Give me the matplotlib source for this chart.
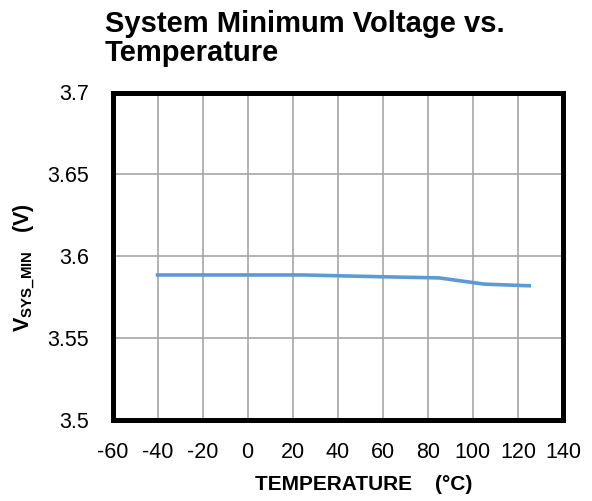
import matplotlib
matplotlib.use('Agg')
import matplotlib.pyplot as plt

plt.rcParams['font.family'] = ['Liberation Sans', 'DejaVu Sans']
plt.rcParams['mathtext.fontset'] = 'custom'
plt.rcParams['mathtext.rm'] = 'Liberation Sans'
plt.rcParams['mathtext.bf'] = 'Liberation Sans:bold'

# data
temp = [-40, -20, 0, 25, 40, 60, 85, 105, 125]
vsys = [3.5884, 3.5884, 3.5884, 3.5884, 3.5879, 3.5873, 3.5866, 3.5828, 3.5818]
xticks = [-60, -40, -20, 0, 20, 40, 60, 80, 100, 120, 140]
yticks = [3.5, 3.55, 3.6, 3.65, 3.7]
ylabels = ['3.5', '3.55', '3.6', '3.65', '3.7']

fig = plt.figure(figsize=(5.92, 5.01), dpi=100)
ax = fig.add_axes([112.5/592, 1-419.5/501, (563-112.5)/592, (419.5-92.5)/501])

ax.plot(temp, vsys, color='#5B9BD5', lw=2.6, zorder=3)

ax.set_xlim(-60, 140)
ax.set_ylim(3.5, 3.7)
ax.set_xticks(xticks)
ax.set_xticklabels([str(t) for t in xticks])
ax.set_yticks(yticks)
ax.set_yticklabels(ylabels)
ax.tick_params(length=0, labelsize=15.5)
ax.tick_params(axis='x', pad=16)
ax.tick_params(axis='y', pad=17)
ax.grid(True, color='#A6A6A6', lw=1.2)
for s in ax.spines.values():
    s.set_linewidth(3.6)
    s.set_color('black')

ax.set_xlabel('TEMPERATURE    (°C)', fontsize=15, fontweight='bold')
ax.xaxis.set_label_coords((364-112.5)/(563-112.5), -(484-419.5)/(419.5-92.5))
ax.xaxis.label.set_va('center')
ax.set_ylabel(r'$\mathbf{V_{SYS\_MIN}}$   (V)', fontsize=15.5, fontweight='bold')
ax.yaxis.set_label_coords(-(112.5-25)/(563-112.5), (419.5-268)/(419.5-92.5))
ax.yaxis.label.set_va('center')

fig.text(105/592, 1-10/501, 'System Minimum Voltage vs.\nTemperature', fontsize=21,
         fontweight='bold', ha='left', va='top', linespacing=1.05)

fig.savefig('out.png', dpi=100)
